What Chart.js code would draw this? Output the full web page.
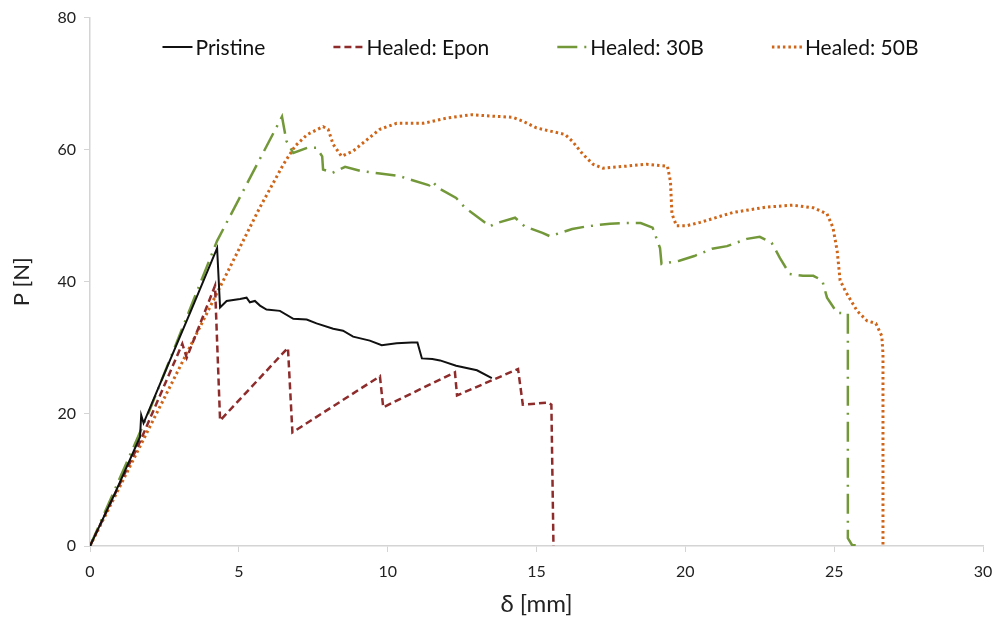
<!DOCTYPE html>
<html lang="en">
<head>
  <meta charset="UTF-8">
  <title>P - delta curves</title>
  <script src="https://cdn.jsdelivr.net/npm/chart.js"></script>
  <style>
    html, body {
      margin: 0;
      background: #fff;
    }
    #wrap {
      width: 995px;
      height: 625px;
    }
  </style>
</head>
<body>

<div id="wrap">
  <canvas id="pdChart"></canvas>
</div>

<script>
// values: delta [mm] and P [N]
const pristineX = [0, 0.8, 1.68, 1.72, 1.8, 2.6, 3.4, 4.27, 4.37, 4.59, 5.04, 5.26, 5.37, 5.54, 5.71, 5.93, 6.38, 6.83, 7.28, 7.61, 8.17, 8.5, 8.84, 9.4, 9.8, 10.3, 10.8, 11.0, 11.15, 11.5, 11.76, 12.3, 13.0, 13.5];
const pristineY = [0, 7.6, 16.5, 19.8, 18.6, 27.2, 35.7, 45.1, 36.1, 37.1, 37.4, 37.6, 36.9, 37.1, 36.4, 35.8, 35.6, 34.4, 34.3, 33.7, 32.9, 32.6, 31.7, 31.1, 30.4, 30.7, 30.8, 30.8, 28.4, 28.3, 28.1, 27.3, 26.6, 25.4];

const eponX = [0, 1.68, 3.1, 3.25, 4.2, 4.37, 6.65, 6.8, 9.74, 9.85, 12.26, 12.33, 14.38, 14.54, 15.38, 15.5, 15.57];
const eponY = [0, 15.8, 30.6, 28.5, 39.4, 19.0, 30.0, 17.2, 25.7, 21.0, 26.3, 22.8, 26.8, 21.4, 21.7, 21.4, 0];

const b30X = [0, 2.0, 4.27, 6.45, 6.6, 6.83, 7.3, 7.6, 7.8, 7.83, 8.15, 8.57, 9.07, 9.74, 10.4, 10.75, 11.4, 11.5, 11.7, 12.3, 12.6, 13.2, 13.44, 13.6, 14.28, 14.6, 15.2, 15.45, 16.2, 16.7, 17.47, 17.9, 18.5, 18.9, 19.15, 19.2, 19.8, 20.3, 20.9, 21.4, 22.07, 22.5, 22.9, 23.18, 23.5, 23.95, 24.3, 24.6, 24.76, 25.1, 25.46, 25.46, 25.6, 25.9];
const b30Y = [0, 20.5, 46.2, 65.0, 61.3, 59.5, 60.3, 60.3, 59.0, 57.0, 56.5, 57.4, 56.8, 56.4, 56.0, 55.5, 54.6, 55.2, 54.2, 52.7, 51.2, 49.2, 48.4, 48.8, 49.7, 48.4, 47.4, 46.9, 48.0, 48.4, 48.8, 48.9, 48.9, 48.2, 45.1, 42.7, 43.2, 43.9, 45.0, 45.4, 46.5, 46.8, 45.9, 43.6, 41.2, 40.9, 40.9, 40.2, 37.6, 35.3, 35.2, 1.2, 0.15, 0.1];

const b50X = [0, 4.3, 5.7, 6.5, 6.9, 7.3, 7.83, 8.0, 8.17, 8.45, 8.84, 9.3, 9.74, 10.3, 11.2, 12.0, 12.83, 13.44, 14.2, 14.55, 15.0, 15.96, 16.2, 16.56, 16.9, 17.23, 18.0, 18.7, 19.4, 19.5, 19.55, 19.7, 20.05, 20.5, 21.6, 22.7, 23.6, 24.3, 24.76, 24.96, 25.1, 25.2, 25.4, 25.77, 26.1, 26.4, 26.6, 26.64, 26.64];
const b50Y = [0, 38.6, 51.2, 57.8, 60.6, 62.3, 63.5, 63.1, 60.8, 59.0, 59.8, 61.5, 63.1, 64.0, 64.0, 64.8, 65.3, 65.1, 64.9, 64.3, 63.3, 62.3, 61.3, 59.3, 57.8, 57.2, 57.5, 57.8, 57.5, 55.2, 50.3, 48.5, 48.5, 49.0, 50.5, 51.3, 51.6, 51.2, 50.3, 48.2, 44.7, 40.2, 38.4, 35.6, 34.1, 33.7, 31.8, 29.1, 0];

const seriesNames = ['Pristine', 'Healed: Epon', 'Healed: 30B', 'Healed: 50B'];
const xTicks = [0, 5, 10, 15, 20, 25, 30];
const yTicks = [0, 20, 40, 60, 80];

const FONT = 'Lato, "Open Sans", sans-serif';

function pts(xs, ys) {
  return xs.map((x, i) => ({ x: x, y: ys[i] }));
}

// legend drawn inside the plot area, like the original
const insideLegend = {
  id: 'insideLegend',
  afterDraw(chart) {
    const ctx = chart.ctx;
    const area = chart.chartArea;
    const sample = 30, textGap = 3, itemGap = 68;
    ctx.save();
    ctx.font = '21px ' + FONT;
    ctx.textBaseline = 'middle';
    const sets = chart.data.datasets;
    const widths = sets.map(d => sample + textGap + ctx.measureText(d.label).width);
    const total = widths.reduce((a, b) => a + b, 0) + itemGap * (sets.length - 1);
    let x = (area.left + area.right) / 2 - total / 2 + 4;
    const y = 47;
    sets.forEach((d, i) => {
      ctx.beginPath();
      ctx.strokeStyle = d.borderColor;
      ctx.lineWidth = d.borderWidth;
      ctx.setLineDash(d.borderDash || []);
      ctx.moveTo(x, y);
      ctx.lineTo(x + sample, y);
      ctx.stroke();
      ctx.setLineDash([]);
      ctx.fillStyle = '#111';
      ctx.fillText(d.label, x + sample + textGap, y + 1);
      x += widths[i] + itemGap;
    });
    ctx.restore();
  }
};

new Chart(document.getElementById('pdChart'), {
  type: 'scatter',
  data: {
    datasets: [
      {
        label: seriesNames[0],
        data: pts(pristineX, pristineY),
        borderColor: '#111111',
        borderWidth: 2
      },
      {
        label: seriesNames[1],
        data: pts(eponX, eponY),
        borderColor: '#8e2b2b',
        borderWidth: 2.5,
        borderDash: [7, 4]
      },
      {
        label: seriesNames[2],
        data: pts(b30X, b30Y),
        borderColor: '#73983a',
        borderWidth: 2.5,
        borderDash: [20, 7, 2, 7]
      },
      {
        label: seriesNames[3],
        data: pts(b50X, b50Y),
        borderColor: '#cf6518',
        borderWidth: 3,
        borderDash: [2.5, 3]
      }
    ].map(d => Object.assign(d, { showLine: true, pointRadius: 0, fill: false, tension: 0 }))
  },
  options: {
    responsive: true,
    maintainAspectRatio: false,
    animation: false,
    layout: { padding: { top: 16, right: 12, left: 0, bottom: 0 } },
    plugins: {
      legend: { display: false },
      tooltip: { enabled: false }
    },
    scales: {
      x: {
        type: 'linear',
        min: 0,
        max: 30,
        afterBuildTicks: s => { s.ticks = xTicks.map(v => ({ value: v })); },
        afterFit: s => { s.height = 79; s.paddingLeft = 0; s.paddingRight = 0; },
        grid: { drawOnChartArea: false, tickLength: 6, color: '#d4d4d4' },
        border: { color: '#d4d4d4', width: 1.5 },
        ticks: { color: '#222', font: { family: FONT, size: 16 }, padding: 10 },
        title: {
          display: true,
          text: 'δ [mm]',
          color: '#222',
          font: { family: FONT, size: 24 },
          padding: { top: 0, bottom: 6 }
        }
      },
      y: {
        type: 'linear',
        min: 0,
        max: 80,
        afterBuildTicks: s => { s.ticks = yTicks.map(v => ({ value: v })); },
        afterFit: s => { s.width = 90; },
        grid: { drawOnChartArea: false, tickLength: 6, color: '#d4d4d4' },
        border: { color: '#d4d4d4', width: 1.5 },
        ticks: { color: '#222', font: { family: FONT, size: 16 }, padding: 8 },
        title: {
          display: true,
          text: 'P [N]',
          color: '#222',
          font: { family: FONT, size: 22 },
          padding: { top: 9, bottom: 0 }
        }
      }
    }
  },
  plugins: [insideLegend]
});
</script>

</body>
</html>
